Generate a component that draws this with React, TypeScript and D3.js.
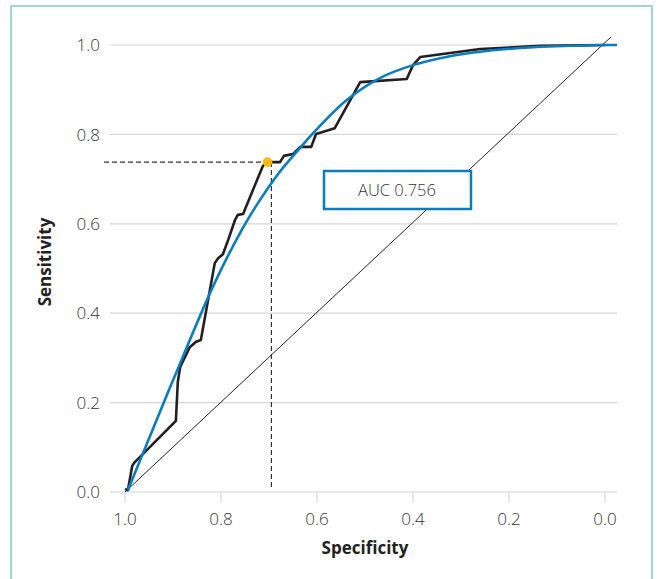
import React from "react";
import * as d3 from "d3";

const width = 660;
const height = 579;

// empirical ROC (specificity, sensitivity)
const rocSpec = [1.0, 0.994, 0.985, 0.981, 0.894, 0.89, 0.885, 0.865, 0.852, 0.842, 0.813, 0.806, 0.796, 0.785, 0.771, 0.765, 0.754, 0.713, 0.704, 0.677, 0.669, 0.65, 0.635, 0.612, 0.602, 0.563, 0.51, 0.413, 0.4, 0.385, 0.26, 0.135, 0.0];
const rocSens = [0.007, 0.004, 0.058, 0.065, 0.159, 0.246, 0.28, 0.324, 0.336, 0.34, 0.512, 0.523, 0.532, 0.564, 0.608, 0.62, 0.622, 0.729, 0.738, 0.738, 0.752, 0.756, 0.772, 0.772, 0.801, 0.814, 0.917, 0.924, 0.955, 0.973, 0.991, 0.998, 1.0];

// smoothed ROC
const fitSpec = [0.994, 0.917, 0.896, 0.817, 0.757, 0.719, 0.677, 0.635, 0.608, 0.538, 0.469, 0.4, 0.323, 0.26, 0.15, 0.0, -0.025];
const fitSens = [0.004, 0.206, 0.26, 0.459, 0.586, 0.653, 0.717, 0.77, 0.803, 0.877, 0.926, 0.955, 0.975, 0.985, 0.995, 1.0, 1.0];

const ticks = [0, 0.2, 0.4, 0.6, 0.8, 1.0];
const cutoff = { spec: 0.703, sens: 0.738 };
const cutoffLineSpec = 0.695;
const aucLabel = "AUC 0.756";

const x = d3.scaleLinear().domain([1, 0]).range([125, 605]);
const y = d3.scaleLinear().domain([0, 1]).range([492, 45]);

const App = () => {
  const roc = rocSpec.map((s, i) => [s, rocSens[i]] as [number, number]);
  const fit = fitSpec.map((s, i) => [s, fitSens[i]] as [number, number]);
  const smooth =
    d3
      .line<[number, number]>()
      .x(d => x(d[0]))
      .y(d => y(d[1]))
      .curve(d3.curveCatmullRom.alpha(0.5))(fit) || "";
  const rocPath =
    d3
      .line<[number, number]>()
      .x(d => x(d[0]))
      .y(d => y(d[1]))(roc) || "";

  const font = "'Open Sans', Lato, sans-serif";

  return (
    <svg
      width={width}
      height={height}
      style={{ position: "absolute", left: 0, top: 0 }}
    >
      <rect x={0} y={0} width={width} height={height} fill="#fff" />
      <path
        d={`M11,${height + 5}V6H652V${height + 5}`}
        fill="none"
        stroke="#9adcc9"
        strokeWidth={2}
      />
      {/* grid */}
      {ticks.map(t => (
        <line
          key={"g" + t}
          x1={110}
          x2={617}
          y1={y(t)}
          y2={y(t)}
          stroke="#d6d6d6"
          strokeWidth={1.2}
        />
      ))}
      {ticks.map(t => (
        <line
          key={"xt" + t}
          x1={x(t)}
          x2={x(t)}
          y1={y(0)}
          y2={y(0) + 10}
          stroke="#d6d6d6"
          strokeWidth={1.2}
        />
      ))}
      {ticks.map(t => (
        <text
          key={"yl" + t}
          x={100}
          y={y(t)}
          dy="0.36em"
          textAnchor="end"
          fontFamily={font}
          fontWeight={300}
          fontSize={17}
          fill="#333"
        >
          {t.toFixed(1)}
        </text>
      ))}
      {ticks.map(t => (
        <text
          key={"xl" + t}
          x={x(t)}
          y={525}
          textAnchor="middle"
          fontFamily={font}
          fontWeight={300}
          fontSize={17}
          fill="#333"
        >
          {t.toFixed(1)}
        </text>
      ))}
      <text
        x={365}
        y={554}
        textAnchor="middle"
        fontFamily={font}
        fontWeight={700}
        fontSize={17}
        fill="#222"
      >
        Specificity
      </text>
      <text
        transform={`translate(51,${262}) rotate(-90)`}
        textAnchor="middle"
        fontFamily={font}
        fontWeight={700}
        fontSize={17}
        fill="#222"
      >
        Sensitivity
      </text>

      {/* chance line */}
      <line
        x1={x(1)}
        y1={y(0)}
        x2={x(-0.0125)}
        y2={y(1.018)}
        stroke="#222"
        strokeWidth={1}
      />

      {/* cutoff guides */}
      <line
        x1={104}
        x2={x(cutoff.spec)}
        y1={y(cutoff.sens)}
        y2={y(cutoff.sens)}
        stroke="#333"
        strokeWidth={1.2}
        strokeDasharray="5,3"
      />
      <line
        x1={x(cutoffLineSpec)}
        x2={x(cutoffLineSpec)}
        y1={y(cutoff.sens)}
        y2={y(0.008)}
        stroke="#333"
        strokeWidth={1.2}
        strokeDasharray="5,3"
      />

      <path d={rocPath} fill="none" stroke="#231f20" strokeWidth={2.6} strokeLinejoin="round" />
      <path d={smooth} fill="none" stroke="#0a7dbf" strokeWidth={2.6} />

      <circle cx={x(cutoff.spec)} cy={y(cutoff.sens)} r={4.8} fill="#fbb813" />

      {/* AUC box */}
      <rect x={324} y={171} width={147} height={38} fill="#fff" stroke="#0a7dbf" strokeWidth={2.5} />
      <text
        x={397}
        y={190}
        dy="0.36em"
        textAnchor="middle"
        fontFamily={font}
        fontWeight={300}
        fontSize={16.5}
        fill="#333"
      >
        {aucLabel}
      </text>
    </svg>
  );
};

export default App;
